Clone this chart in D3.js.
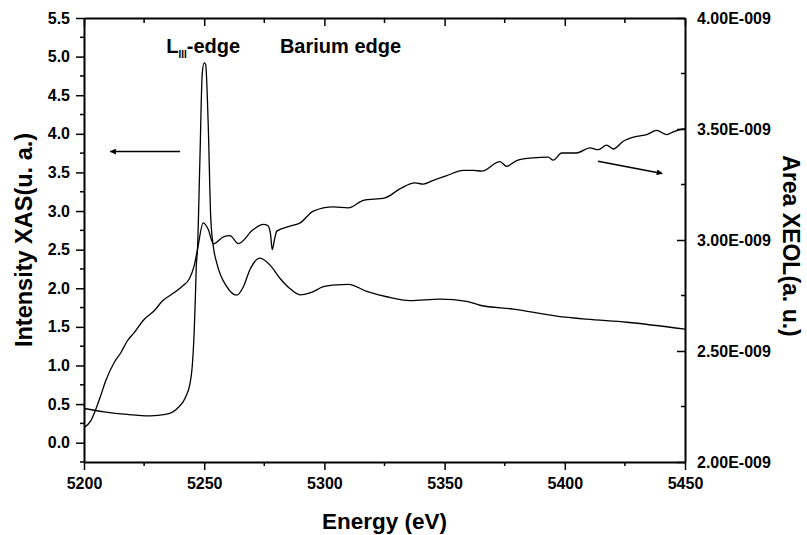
<!DOCTYPE html>
<html>
<head>
<meta charset="utf-8">
<script src="https://cdn.jsdelivr.net/npm/d3@7"></script>
<style>
  html, body { margin: 0; padding: 0; background: #fff; }
  svg { display: block; font-family: "Liberation Sans", Arial, sans-serif; font-weight: bold; }
</style>
</head>
<body>
<svg id="chart" width="807" height="535"></svg>
<script>
// Ba L-III edge: XAS intensity (left axis) and XEOL area (right axis) vs energy
const xasEnergy = [5200, 5208.3, 5218.0, 5227.7, 5233.9, 5238.8, 5242.3, 5244.1, 5245.0, 5245.8,
  5246.3, 5246.7, 5247.2, 5248.2, 5249.2, 5250.0, 5250.6, 5251.7, 5252.7, 5253.8, 5255.2,
  5259.4, 5263.5, 5266.3, 5269.0, 5273.2, 5277.4, 5281.5, 5285.5, 5289.9, 5294.0, 5299.6,
  5305.0, 5310.0, 5317.6, 5325.9, 5335.6, 5348.1, 5359.2, 5364.7, 5378.6, 5396.6, 5409.1,
  5425.8, 5450];
const xasIntensity = [0.443, 0.40, 0.366, 0.348, 0.366, 0.443, 0.593, 0.767, 0.98, 1.41,
  1.85, 2.28, 2.50, 3.65, 4.79, 4.92, 4.90, 4.09, 2.93, 2.54, 2.33,
  2.02, 1.91, 2.02, 2.24, 2.39, 2.30, 2.13, 2.00, 1.915, 1.94, 2.02,
  2.045, 2.05, 1.96, 1.89, 1.84, 1.86, 1.83, 1.78, 1.73, 1.64, 1.60,
  1.56, 1.47];

const xeolEnergy = [5200, 5202.8, 5204.9, 5206.9, 5209.0, 5212.5, 5215.3, 5218.0, 5220.8, 5225.0,
  5229.1, 5232.6, 5237.4, 5240.9, 5243.7, 5245.8, 5247.2, 5249.6, 5251.7, 5253.8, 5258.0,
  5260.7, 5264.2, 5270.4, 5274.6, 5276.5, 5277.6, 5278.3, 5279.2, 5280.2, 5285.7, 5289.9,
  5295.4, 5303.7, 5310.0, 5316.2, 5325.2, 5331.4, 5337.7, 5341.1, 5345.3, 5350.9, 5357.8,
  5362.0, 5365.4, 5373.0, 5375.8, 5380.0, 5386.9, 5393.1, 5395.2, 5398.7, 5404.9, 5410.5,
  5413.9, 5417.4, 5420.2, 5424.3, 5429.9, 5434.1, 5438.2, 5442.4, 5445.1, 5449.3, 5450];
// XEOL area in units of 1E-009
const xeolArea = [2.155, 2.185, 2.237, 2.297, 2.365, 2.447, 2.492, 2.545, 2.582, 2.642,
  2.680, 2.725, 2.762, 2.792, 2.823, 2.882, 2.957, 3.077, 3.047, 2.983, 3.014,
  3.02, 2.984, 3.047, 3.07, 3.065, 3.025, 2.957, 3.0, 3.04, 3.062, 3.077,
  3.13, 3.149, 3.145, 3.179, 3.19, 3.23, 3.257, 3.252, 3.269, 3.29, 3.314,
  3.314, 3.31, 3.353, 3.332, 3.358, 3.37, 3.373, 3.36, 3.392, 3.392, 3.415,
  3.407, 3.427, 3.41, 3.445, 3.467, 3.475, 3.494, 3.475, 3.487, 3.50, 3.50];

const xTicks = [5200, 5250, 5300, 5350, 5400, 5450];
const leftTicks = [0.0, 0.5, 1.0, 1.5, 2.0, 2.5, 3.0, 3.5, 4.0, 4.5, 5.0, 5.5];
const rightTicks = [2.0, 2.5, 3.0, 3.5, 4.0];
const rightTickLabels = ["2.00E-009", "2.50E-009", "3.00E-009", "3.50E-009", "4.00E-009"];

const svg = d3.select("#chart");
const W = 807, H = 535;
const margin = { left: 84, right: W - 685, top: 18, bottom: H - 462 };

const x = d3.scaleLinear().domain([5200, 5450]).range([margin.left, W - margin.right]);
const yL = d3.scaleLinear().domain([-0.25, 5.5]).range([H - margin.bottom, margin.top]);
const yR = d3.scaleLinear().domain([2.0, 4.0]).range([H - margin.bottom, margin.top]);

const tickFont = 16;

// Curves
const xasLine = d3.line().x(d => x(d[0])).y(d => yL(d[1])).curve(d3.curveMonotoneX);
const xeolLine = d3.line().x(d => x(d[0])).y(d => yR(d[1])).curve(d3.curveMonotoneX);

svg.append("path")
  .datum(xasEnergy.map((e, i) => [e, xasIntensity[i]]))
  .attr("d", xasLine).attr("fill", "none").attr("stroke", "#000").attr("stroke-width", 1.3);
svg.append("path")
  .datum(xeolEnergy.map((e, i) => [e, xeolArea[i]]))
  .attr("d", xeolLine).attr("fill", "none").attr("stroke", "#000").attr("stroke-width", 1.3);

// Axes
function styleAxis(g) {
  g.selectAll(".domain").attr("stroke", "#000").attr("stroke-width", 2);
  g.selectAll(".tick line").attr("stroke", "#000").attr("stroke-width", 1.5);
  g.selectAll("text").attr("font-size", tickFont).attr("font-weight", "bold")
    .attr("font-family", "'Liberation Sans', Arial, sans-serif").attr("fill", "#000");
}
const minorX = d3.range(5225, 5450, 50);
const minorL = d3.range(-0.25, 5.5, 0.5);
const minorR = d3.range(2.25, 4.0, 0.5);

// bottom
const gB = svg.append("g").attr("transform", `translate(0,${H - margin.bottom})`)
  .call(d3.axisBottom(x).tickValues(xTicks).tickFormat(d3.format("d")).tickSize(8).tickSizeOuter(0).tickPadding(8));
gB.selectAll(".minor").data(minorX).enter().append("line")
  .attr("x1", d => x(d)).attr("x2", d => x(d)).attr("y1", 0).attr("y2", 4).attr("stroke", "#000").attr("stroke-width", 1.5);
styleAxis(gB);

// top
const gT = svg.append("g").attr("transform", `translate(0,${margin.top})`)
  .call(d3.axisTop(x).tickValues(xTicks).tickFormat("").tickSize(-8).tickSizeOuter(0));
gT.selectAll(".minor").data(minorX).enter().append("line")
  .attr("x1", d => x(d)).attr("x2", d => x(d)).attr("y1", 0).attr("y2", 5).attr("stroke", "#000").attr("stroke-width", 1.5);
styleAxis(gT);

// left
const gL = svg.append("g").attr("transform", `translate(${margin.left},0)`)
  .call(d3.axisLeft(yL).tickValues(leftTicks).tickFormat(d3.format(".1f")).tickSize(8).tickSizeOuter(0).tickPadding(6));
gL.selectAll(".minor").data(minorL).enter().append("line")
  .attr("y1", d => yL(d)).attr("y2", d => yL(d)).attr("x1", 0).attr("x2", -4).attr("stroke", "#000").attr("stroke-width", 1.5);
styleAxis(gL);

// right
const gR = svg.append("g").attr("transform", `translate(${W - margin.right},0)`)
  .call(d3.axisRight(yR).tickValues(rightTicks).tickFormat((d, i) => rightTickLabels[i]).tickSize(-8).tickSizeOuter(0).tickPadding(12));
gR.selectAll(".minor").data(minorR).enter().append("line")
  .attr("y1", d => yR(d)).attr("y2", d => yR(d)).attr("x1", 0).attr("x2", -4).attr("stroke", "#000").attr("stroke-width", 1.5);
styleAxis(gR);

// Axis titles
svg.append("text").attr("x", x(5325)).attr("y", 529).attr("text-anchor", "middle")
  .attr("font-size", 22.5).text("Energy (eV)");
svg.append("text").attr("transform", `translate(32,${(margin.top + H - margin.bottom) / 2}) rotate(-90)`)
  .attr("text-anchor", "middle").attr("font-size", 23.5).text("Intensity XAS(u. a.)");
svg.append("text").attr("transform", `translate(783,246) rotate(90)`)
  .attr("text-anchor", "middle").attr("font-size", 23).text("Area XEOL(a. u.)");

// Annotations
const lab = svg.append("text").attr("x", x(5234.2)).attr("y", yL(5.05)).attr("font-size", 20);
lab.append("tspan").text("L");
lab.append("tspan").attr("font-size", 10).attr("dy", 5).text("III");
lab.append("tspan").attr("dy", -5).text("-edge");
svg.append("text").attr("x", x(5281.5)).attr("y", yL(5.05)).attr("font-size", 20).text("Barium edge");

// Direction arrows pointing to each curve's axis
svg.append("defs").append("marker").attr("id", "head")
  .attr("viewBox", "0 0 10 10").attr("refX", 9).attr("refY", 5)
  .attr("markerWidth", 11).attr("markerHeight", 6).attr("markerUnits", "userSpaceOnUse")
  .attr("orient", "auto")
  .append("path").attr("d", "M0,0 L10,5 L0,10 Z").attr("fill", "#000");

svg.append("line")
  .attr("x1", x(5240)).attr("y1", yL(3.77)).attr("x2", x(5211)).attr("y2", yL(3.77))
  .attr("stroke", "#000").attr("stroke-width", 1.5).attr("marker-end", "url(#head)");
svg.append("line")
  .attr("x1", x(5413.8)).attr("y1", yR(3.355)).attr("x2", x(5440.5)).attr("y2", yR(3.30))
  .attr("stroke", "#000").attr("stroke-width", 1.5).attr("marker-end", "url(#head)");
</script>
</body>
</html>
